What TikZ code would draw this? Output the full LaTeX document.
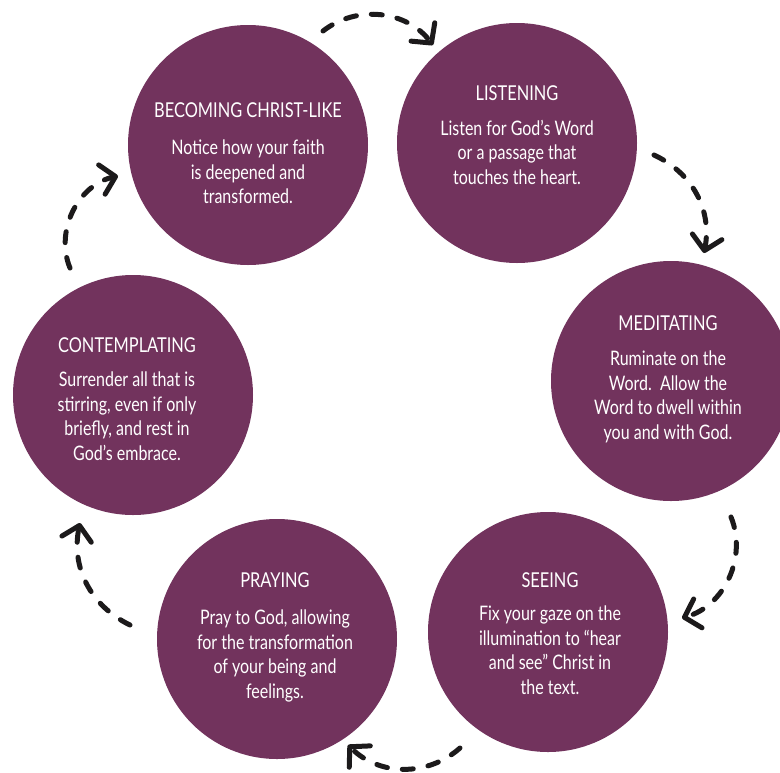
\documentclass[tikz,border=0pt]{standalone}
\usepackage{fontspec}
\setmainfont{Lato}[FakeStretch=0.8]
\usepackage{tikz}
\usetikzlibrary{arrows.meta, positioning}
\definecolor{plum}{RGB}{114, 51, 93}
\definecolor{ink}{RGB}{28, 26, 27}

\tikzset{
  stage/.style={circle, fill=plum, minimum size=240pt, inner sep=0pt},
  head/.style={text=white, inner sep=0pt, font=\fontsize{20.5}{24}\selectfont},
  body/.style={text=white, inner sep=0pt, align=center, font=\fontsize{20}{24.5}\selectfont},
  cyc/.style={ink, line width=5pt, line cap=round, dash pattern=on 11pt off 15pt,
    -{Straight Barb[length=14pt, width=30pt, line width=5pt, round]}},
}

\begin{document}
\begin{tikzpicture}[x=1pt, y=-1pt]
  \clip (0,0) rectangle (780,772);
  \fill[white] (0,0) rectangle (780,772);

  % the six stages
  \node[stage] (becoming)      at (248,145) {};
  \node[stage] (listening)     at (517,143) {};
  \node[stage] (meditating)    at (671,381) {};
  \node[stage] (seeing)        at (548,632) {};
  \node[stage] (praying)       at (277,639) {};
  \node[stage] (contemplating) at (133,395) {};

  % headings and text
  \node[head] (becoming-h) at (248,110) {BECOMING CHRIST-LIKE};
  \node[body, below=22pt of becoming-h] {Notice how your faith\\is deepened and\\transformed.};

  \node[head] (listening-h) at (517,93) {LISTENING};
  \node[body, below=19pt of listening-h] {Listen for God’s Word\\or a passage that\\touches the heart.};

  \node[head] (meditating-h) at (668,323) {MEDITATING};
  \node[body, below=20pt of meditating-h] {Ruminate on the\\Word.\ \ Allow the\\Word to dwell within\\you and with God.};

  \node[head] (seeing-h) at (550,580) {SEEING};
  \node[body, below=18pt of seeing-h] {Fix your gaze on the\\illumination to “hear\\and see” Christ in\\the text.};

  \node[head] (praying-h) at (275,580) {PRAYING};
  \node[body, below=22pt of praying-h] {Pray to God, allowing\\for the transformation\\of your being and\\feelings.};

  \node[head] (contemplating-h) at (127,345) {CONTEMPLATING};
  \node[body, below=19pt of contemplating-h] {Surrender all that is\\stirring, even if only\\briefly, and rest in\\God’s embrace.};

  % dashed arrows between the stages
  \coordinate (c1a) at (323,31);  \coordinate (c1b) at (433,45);
  \coordinate (c2a) at (654,155); \coordinate (c2b) at (704,253);
  \coordinate (c3a) at (731,517); \coordinate (c3b) at (682,618);
  \coordinate (c4a) at (460,748); \coordinate (c4b) at (348,745);
  \coordinate (c5a) at (130,625); \coordinate (c5b) at (80,523);
  \coordinate (c6a) at (70,268);  \coordinate (c6b) at (118,176);

  \draw[cyc] (c1a) to[bend left=45] (c1b);
  \draw[cyc] (c2a) to[bend left=38] (c2b);
  \draw[cyc] (c3a) to[bend left=48] (c3b);
  \draw[cyc] (c4a) to[bend left=43] (c4b);
  \draw[cyc] (c5a) to[bend left=38] (c5b);
  \draw[cyc] (c6a) to[bend left=50] (c6b);
\end{tikzpicture}
\end{document}
